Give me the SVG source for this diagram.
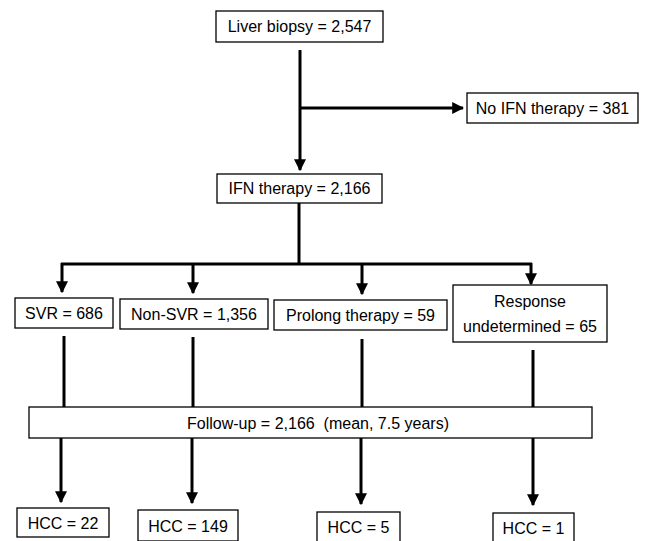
<svg xmlns="http://www.w3.org/2000/svg" width="649" height="541" viewBox="0 0 649 541">
<defs>
<marker id="ah" viewBox="0 0 10 10" refX="9" refY="5" markerWidth="4" markerHeight="4" orient="auto" markerUnits="strokeWidth">
<path d="M0,0 L10,5 L0,10 z" fill="#000"/>
</marker>
</defs>
<style>
.box{fill:#fff;stroke:#000;stroke-width:1.3}
.t{font-family:"Liberation Sans",Arial,sans-serif;font-size:16px;fill:#000;text-anchor:middle;white-space:pre}
.ln{fill:none;stroke:#000;stroke-width:3}
.ar{fill:none;stroke:#000;stroke-width:3;marker-end:url(#ah)}
</style>
<rect width="649" height="541" fill="#fff"/>
<g id="connectors">
<line class="ln" x1="300" y1="50" x2="300" y2="108"/>
<line class="ar" x1="300" y1="108" x2="300" y2="170"/>
<line class="ar" x1="300" y1="108" x2="463" y2="108"/>
<line class="ln" x1="299" y1="203" x2="299" y2="264"/>
<line class="ln" x1="61" y1="264" x2="532" y2="264"/>
<line class="ar" x1="62" y1="263" x2="62" y2="292"/>
<line class="ar" x1="193" y1="263" x2="193" y2="293"/>
<line class="ar" x1="362" y1="263" x2="362" y2="294"/>
<line class="ar" x1="531" y1="263" x2="531" y2="284"/>
<line class="ln" x1="64" y1="336" x2="64" y2="407"/>
<line class="ln" x1="193" y1="337" x2="193" y2="407"/>
<line class="ln" x1="362" y1="339" x2="362" y2="408"/>
<line class="ln" x1="533" y1="350" x2="533" y2="409"/>
<line class="ar" x1="61" y1="438" x2="61" y2="502"/>
<line class="ar" x1="192" y1="438" x2="192" y2="503"/>
<line class="ar" x1="361" y1="438" x2="361" y2="504"/>
<line class="ar" x1="533" y1="438" x2="533" y2="505"/>
</g>
<g id="liver"><rect class="box" x="216" y="11" width="167" height="31"/><text class="t" x="299.5" y="32">Liver biopsy = 2,547</text></g>
<g id="noifn"><rect class="box" x="467" y="93" width="171" height="30"/><text class="t" x="552.5" y="114">No IFN therapy = 381</text></g>
<g id="ifn"><rect class="box" x="217" y="174" width="165" height="29"/><text class="t" x="299.5" y="194">IFN therapy = 2,166</text></g>
<g id="svr"><rect class="box" x="15" y="298" width="98" height="30"/><text class="t" x="64" y="319">SVR = 686</text></g>
<g id="nonsvr"><rect class="box" x="120" y="299" width="148" height="30"/><text class="t" x="194" y="320">Non-SVR = 1,356</text></g>
<g id="prolong"><rect class="box" x="274" y="300" width="173" height="30"/><text class="t" x="360.5" y="321">Prolong therapy = 59</text></g>
<g id="undet"><rect class="box" x="453" y="285" width="154" height="57"/><text class="t" x="530" y="307">Response</text><text class="t" x="530" y="332">undetermined = 65</text></g>
<g id="followup"><rect class="box" x="29" y="407" width="563" height="31"/><text class="t" x="318" y="429">Follow-up = 2,166  (mean, 7.5 years)</text></g>
<g id="hcc22"><rect class="box" x="17" y="508" width="92" height="29"/><text class="t" x="63" y="529">HCC = 22</text></g>
<g id="hcc149"><rect class="box" x="138" y="510" width="100" height="31"/><text class="t" x="188" y="532">HCC = 149</text></g>
<g id="hcc5"><rect class="box" x="317" y="512" width="83" height="30"/><text class="t" x="358.5" y="533">HCC = 5</text></g>
<g id="hcc1"><rect class="box" x="493" y="513" width="81" height="30"/><text class="t" x="533.5" y="534">HCC = 1</text></g>
</svg>
